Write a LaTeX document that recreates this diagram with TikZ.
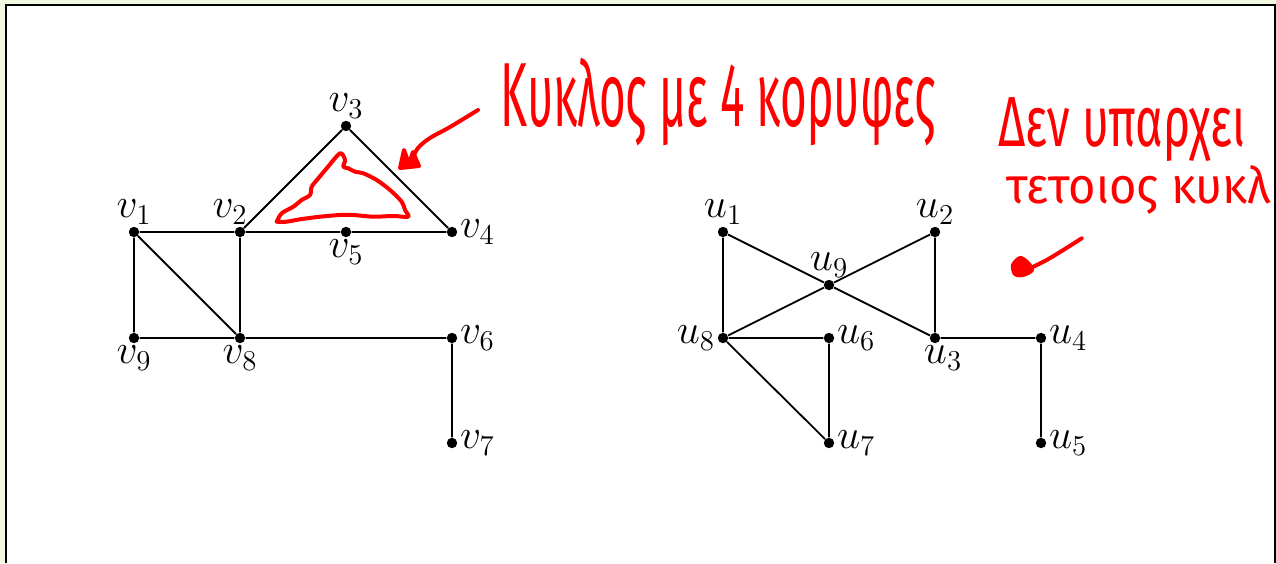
\documentclass[tikz,border=0pt]{standalone}
\usepackage{fontspec}
\newfontfamily\hand{Fira Sans}
\definecolor{bggreen}{HTML}{F0F8E0}
\definecolor{ink}{HTML}{FF0000}
\tikzset{
  dot/.style={circle,fill=black,inner sep=0pt,minimum size=5.2pt},
  edge/.style={line width=0.9pt},
  every label/.style={font=\fontsize{20}{22}\selectfont,inner sep=1pt},
  scrib/.style={draw=ink,line width=2pt,line cap=round,line join=round},
  note/.style={ink,inner sep=0pt,font=\hand}
}
\begin{document}
\begin{tikzpicture}[x=0.5pt,y=-0.5pt,label distance=0pt]
\useasboundingbox (0,0) rectangle (1276,563);
\fill[bggreen] (0,0) rectangle (1276,563);
\fill[white] (5,4) rectangle (1276,563);

% graph G
\node[dot,label={above:$v_1$}] (v1) at (134,232) {};
\node[dot,label={[xshift=-5pt]above:$v_2$}] (v2) at (240,232) {};
\node[dot,label={above:$v_3$}] (v3) at (346,126) {};
\node[dot,label={right:$v_4$}] (v4) at (452,232) {};
\node[dot,label={below:$v_5$}] (v5) at (346,232) {};
\node[dot,label={right:$v_6$}] (v6) at (452,338) {};
\node[dot,label={right:$v_7$}] (v7) at (452,443) {};
\node[dot,label={below:$v_8$}] (v8) at (240,338) {};
\node[dot,label={below:$v_9$}] (v9) at (134,338) {};
\draw[edge] (v1)--(v2) (v2)--(v5) (v5)--(v4) (v2)--(v3) (v3)--(v4)
  (v1)--(v9) (v1)--(v8) (v2)--(v8) (v9)--(v8) (v8)--(v6) (v6)--(v7);

% graph H
\node[dot,label={above:$u_1$}] (u1) at (723,232) {};
\node[dot,label={above:$u_2$}] (u2) at (935,232) {};
\node[dot,label={[xshift=4pt]below:$u_3$}] (u3) at (935,338) {};
\node[dot,label={right:$u_4$}] (u4) at (1041,338) {};
\node[dot,label={right:$u_5$}] (u5) at (1041,443) {};
\node[dot,label={right:$u_6$}] (u6) at (829,338) {};
\node[dot,label={right:$u_7$}] (u7) at (829,443) {};
\node[dot,label={left:$u_8$}] (u8) at (723,338) {};
\node[dot,label={above:$u_9$}] (u9) at (829,285) {};
\draw[edge] (u1)--(u8) (u1)--(u9) (u9)--(u3) (u2)--(u9) (u9)--(u8)
  (u2)--(u3) (u8)--(u6) (u6)--(u7) (u8)--(u7) (u3)--(u4) (u4)--(u5);

% red annotations
\draw[scrib] plot[smooth] coordinates {(276.7,221.7) (281.7,213.3) (293.3,206.7)
  (301.7,200) (310,195) (311.7,186.7) (318.3,178.3) (326.7,168.3) (340,153.3)
  (345,160) (343.3,166.7) (348.3,168.3) (355,171.7) (363.3,173.3) (376.7,180)
  (390,190) (401.7,201.7) (405,210) (408.3,216.7) (393.3,216) (373.3,216.7)
  (353.3,215) (340,215) (320,216.7) (300,219.3) (286.7,221.7) (276.7,221.7)};

\coordinate (a1s) at (478,110);
\coordinate (a1e) at (410,163);
\draw[scrib] plot[smooth] coordinates {(a1s) (450,127) (430,138) (418,148) (a1e)};
\draw[scrib,fill=ink] (400,168)--(404,150)--(409,164)--(413,152)--(419,166)--cycle;

\coordinate (a2s) at (1081.7,238.3);
\coordinate (a2e) at (1030,268.3);
\draw[scrib] plot[smooth] coordinates {(a2s) (1063.3,250) (1046.7,260) (a2e)};
\draw[scrib,fill=ink] plot[smooth cycle] coordinates {(1015,274) (1013,265)
  (1020,258) (1027,262) (1032,270) (1023,275)};

\node[note,anchor=north west] (t1) at (500,58)
  {\resizebox*{217.5pt}{44pt}{Κυκλος με 4 κορυφες}};
\node[note,anchor=north west] (t2) at (998,97)
  {\resizebox*{123.5pt}{32pt}{Δεν υπαρχει}};
\node[note,anchor=south west] (t3) at (1006,215)
  {\resizebox{132pt}{19pt}{τετοιος κυκλ}};

% frame
\draw[line width=1pt] (5.5,563)--(5.5,4.5)--(1275,4.5)--(1275,563);
\end{tikzpicture}
\end{document}
